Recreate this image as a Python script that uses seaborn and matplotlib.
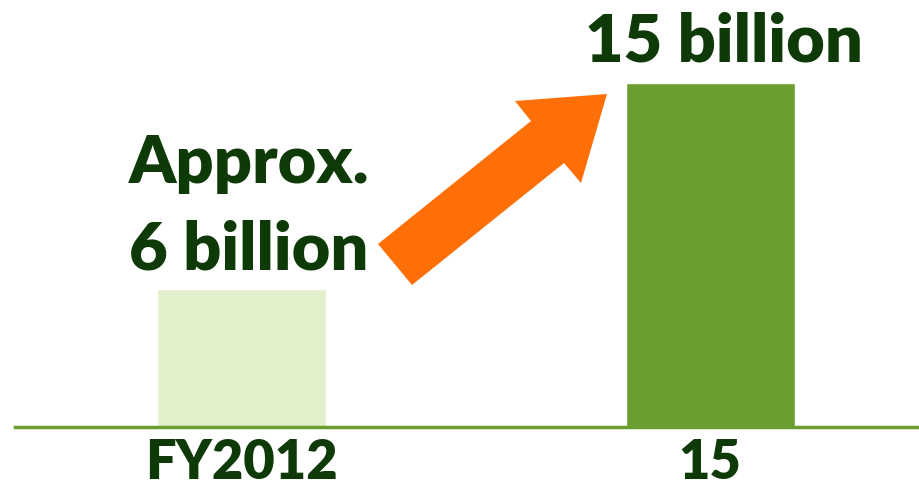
import matplotlib
matplotlib.use("Agg")
import matplotlib.pyplot as plt
import seaborn as sns
import pandas as pd
from matplotlib.patches import Polygon

categories = ["FY2012", "15"]
values = [6, 15]
value_labels = ["Approx.\n6 billion", "15 billion"]
bar_colors = ["#E2F0CB", "#6A9E2F"]

sns.set_theme(style="white")
plt.rcParams['font.family'] = ['Lato', 'DejaVu Sans']

W, H = 920, 489
fig = plt.figure(figsize=(W / 100, H / 100), dpi=100)
ax = fig.add_axes([15 / W, (H - 428) / H, 905 / W, 428 / H])

df = pd.DataFrame({"cat": categories, "val": values})
sns.barplot(data=df, x="cat", y="val", hue="cat", palette=bar_colors,
            width=0.361, legend=False, ax=ax, saturation=1)

ax.set_xlim(-0.4835, 1.448)
ax.set_ylim(0, 428 / 344 * 15)
for s in ["top", "right", "left"]:
    ax.spines[s].set_visible(False)
ax.spines["bottom"].set_color("#6A9E2F")
ax.spines["bottom"].set_linewidth(2.5)
ax.set_yticks([])
ax.set_xlabel("")
ax.set_ylabel("")
ax.tick_params(axis="x", length=0, pad=7)
for lab in ax.get_xticklabels():
    lab.set_fontsize(39)
    lab.set_fontweight("heavy")
    lab.set_color("#0E3A07")

txt_color = "#0E3A07"
# value labels (baselines placed above bars)
lines0 = value_labels[0].split("\n")
ax.text(0.016, values[0] + 4.68, lines0[0], ha="center", va="baseline",
        fontsize=48, fontweight="heavy", color=txt_color)
ax.text(0.016, values[0] + 0.89, lines0[1], ha="center", va="baseline",
        fontsize=48, fontweight="heavy", color=txt_color)
ax.text(1.030, values[1] + 0.96, value_labels[1], ha="center", va="baseline",
        fontsize=48, fontweight="heavy", color=txt_color)

# orange arrow (decoration) in figure pixel coords
pts = [(378, 245), (531, 122), (515, 102), (607, 95), (581, 184), (564, 164), (412, 286)]
pts_fig = [(x / W, 1 - y / H) for x, y in pts]
fig.patches.append(Polygon(pts_fig, closed=True, transform=fig.transFigure,
                           facecolor="#FF6F08", edgecolor="none"))

fig.savefig("out.png", dpi=100, facecolor="white")
